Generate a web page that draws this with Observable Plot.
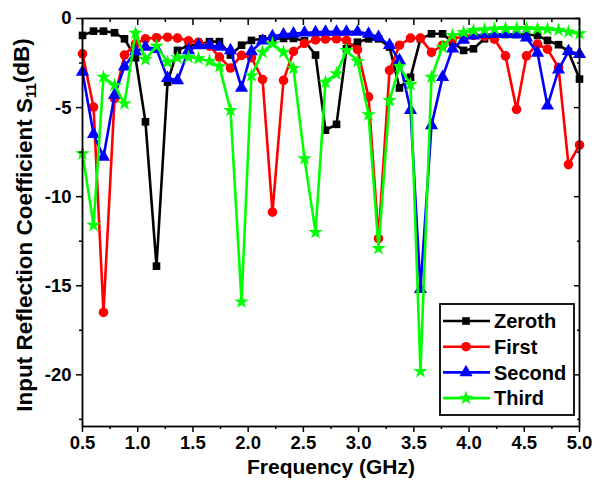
<!DOCTYPE html>
<html><head><meta charset="utf-8">
<script src="https://cdn.jsdelivr.net/npm/d3@7"></script>
<script src="https://cdn.jsdelivr.net/npm/@observablehq/plot@0.6"></script>
<style>
body{margin:0;background:#fff;}
#chart{position:relative;width:600px;height:487px;}
</style></head><body><div id="chart"></div>
<script>
const freq = [0.50,0.60,0.69,0.79,0.88,0.98,1.07,1.17,1.27,1.36,1.46,1.55,1.65,1.74,1.84,1.94,2.03,2.13,2.22,2.32,2.41,2.51,2.61,2.70,2.80,2.89,2.99,3.09,3.18,3.28,3.37,3.47,3.56,3.66,3.76,3.85,3.95,4.04,4.14,4.23,4.33,4.43,4.52,4.62,4.71,4.81,4.90,5.00];
const zeroth = [-0.95,-0.71,-0.71,-0.8,-1.14,-2.2,-5.8,-13.9,-3.57,-1.79,-1.51,-1.47,-1.3,-1.3,-2.05,-1.5,-1.23,-1.14,-1.12,-1.12,-1.12,-1.25,-2.05,-6.27,-5.94,-1.7,-1.33,-1.14,-1.14,-1.6,-3.9,-3.3,-1.14,-0.86,-0.86,-1.33,-1.79,-1.7,-1.14,-1.0,-0.9,-0.9,-0.9,-0.95,-1.23,-1.47,-1.85,-3.4];
const first = [-1.98,-4.97,-16.5,-4.5,-2.05,-1.42,-1.14,-1.08,-1.05,-1.1,-1.25,-1.33,-1.55,-2.17,-2.78,-2.07,-2.2,-3.42,-10.87,-3.47,-1.85,-1.4,-1.2,-1.15,-1.14,-1.23,-1.75,-4.4,-12.35,-2.91,-1.5,-1.1,-1.1,-1.9,-1.5,-1.15,-1.0,-0.95,-1.0,-1.16,-2.1,-5.1,-2.1,-1.44,-1.72,-2.75,-8.2,-7.1];
const second = [-3.0,-6.5,-7.77,-4.3,-2.7,-1.85,-1.6,-1.72,-3.35,-3.47,-1.79,-1.51,-1.5,-1.6,-1.79,-3.9,-1.85,-1.25,-1.0,-0.9,-0.85,-0.8,-0.78,-0.75,-0.75,-0.75,-0.75,-0.86,-1.05,-1.5,-2.35,-5.15,-15.2,-6.0,-3.29,-1.7,-1.2,-0.97,-0.9,-0.88,-0.88,-0.9,-1.08,-1.93,-4.9,-2.88,-1.84,-2.0];
const third = [-7.58,-11.6,-3.29,-3.75,-4.78,-0.82,-2.3,-1.55,-2.45,-2.2,-2.17,-2.25,-2.4,-2.7,-5.15,-15.9,-3.2,-1.89,-1.42,-1.89,-2.8,-7.86,-12.0,-3.57,-3.1,-1.79,-2.4,-5.4,-12.9,-4.6,-2.7,-3.7,-19.8,-3.29,-1.6,-0.95,-0.78,-0.67,-0.62,-0.58,-0.56,-0.56,-0.56,-0.58,-0.6,-0.65,-0.75,-0.85];
const seriesNames = ["Zeroth","First","Second","Third"];
const seriesColors = ["#000000","#ff0000","#0000ff","#00ff00"];
const seriesSymbols = ["square","circle","triangle","star"];
const xMajor = [0.5,1.0,1.5,2.0,2.5,3.0,3.5,4.0,4.5,5.0];
const xMinor = [0.75,1.25,1.75,2.25,2.75,3.25,3.75,4.25,4.75];
const yMajor = [0,-5,-10,-15,-20];
const yMinor = [-2.5,-7.5,-12.5,-17.5,-22.5];
const xTitle = "Frequency (GHz)";
const yTitle = ["Input Reflection Coefficient S","11","(dB)"];

const values = [zeroth, first, second, third];
const symR = [4.3, 4.8, 4.9, 4.6];
const seriesMarks = [];
values.forEach((vals, k) => {
  const rows = freq.map((f, i) => ({f, v: vals[i], s: seriesNames[k]}));
  seriesMarks.push(Plot.line(rows, {x: "f", y: "v", stroke: seriesColors[k], strokeWidth: 2.6}));
  seriesMarks.push(Plot.dot(rows, {x: "f", y: "v", symbol: seriesSymbols[k], fill: seriesColors[k], r: symR[k], stroke: "none"}));
});

const fontFam = "'Liberation Sans', Arial, Helvetica, sans-serif";
const chart = Plot.plot({
  width: 600, height: 487,
  marginLeft: 82, marginRight: 21, marginTop: 18, marginBottom: 61,
  style: {fontFamily: fontFam, fontSize: "18.5px", fontWeight: "bold", color: "#000", background: "#fff"},
  x: {domain: [0.5, 5.0]},
  y: {domain: [-22.9, 0]},
  marks: [
    ...seriesMarks,
    Plot.axisX({ticks: xMajor, tickSize: 6, tickPadding: 3, tickFormat: d3.format(".1f"), label: null, strokeWidth: 1.5}),
    Plot.axisX({ticks: xMinor, tickSize: 3, tickFormat: () => "", label: null, strokeWidth: 1.5}),
    Plot.axisX({anchor: "top", ticks: xMajor, tickSize: 6, dy: 6, tickFormat: () => "", label: null, strokeWidth: 1.5}),
    Plot.axisX({anchor: "top", ticks: xMinor, tickSize: 3, dy: 3, tickFormat: () => "", label: null, strokeWidth: 1.5}),
    Plot.axisY({ticks: yMajor, tickSize: 6, tickPadding: 5, tickFormat: d => String(d), label: null, strokeWidth: 1.5}),
    Plot.axisY({ticks: yMinor, tickSize: 3, tickFormat: () => "", label: null, strokeWidth: 1.5}),
    Plot.axisY({anchor: "right", ticks: yMajor, tickSize: 6, dx: -6, tickFormat: () => "", label: null, strokeWidth: 1.5}),
    Plot.axisY({anchor: "right", ticks: yMinor, tickSize: 3, dx: -3, tickFormat: () => "", label: null, strokeWidth: 1.5}),
    Plot.frame({stroke: "#000", strokeWidth: 1.8})
  ]
});
document.getElementById("chart").appendChild(chart);

const svg = d3.select(chart);
// axis titles
svg.append("text")
  .attr("x", 331).attr("y", 474)
  .attr("text-anchor", "middle")
  .style("font-family", fontFam).style("font-weight", "bold").style("font-size", "21px")
  .text(xTitle);
const yt = svg.append("text")
  .attr("transform", "translate(32,225) rotate(-90)")
  .attr("text-anchor", "middle")
  .style("font-family", fontFam).style("font-weight", "bold").style("font-size", "22.5px");
yt.append("tspan").text(yTitle[0]);
yt.append("tspan").attr("dy", "0.3em").style("font-size", "14px").text(yTitle[1]);
yt.append("tspan").attr("dy", "-0.3em").text(yTitle[2]);

// legend
const lg = svg.append("g").attr("transform", "translate(440,304)");
lg.append("rect").attr("width", 134).attr("height", 111).attr("fill", "#fff").attr("stroke", "#000").attr("stroke-width", 1.8);
const symMap = {square: d3.symbolSquare, circle: d3.symbolCircle, triangle: d3.symbolTriangle, star: d3.symbolStar};
seriesNames.forEach((name, k) => {
  const yy = 17 + k * 25.7;
  const row = lg.append("g").attr("transform", `translate(0,${yy})`);
  row.append("line").attr("x1", 3).attr("x2", 50).attr("y1", 0).attr("y2", 0).attr("stroke", seriesColors[k]).attr("stroke-width", 2.6);
  row.append("path").attr("transform", "translate(26,0)").attr("d", d3.symbol(symMap[seriesSymbols[k]], Math.PI * symR[k] * symR[k])()).attr("fill", seriesColors[k]);
  row.append("text").attr("x", 54).attr("y", 0).attr("dy", "0.36em").attr("text-anchor", "start")
    .style("font-family", fontFam).style("font-weight", "bold").style("font-size", "20px").text(name);
});
</script></body></html>
